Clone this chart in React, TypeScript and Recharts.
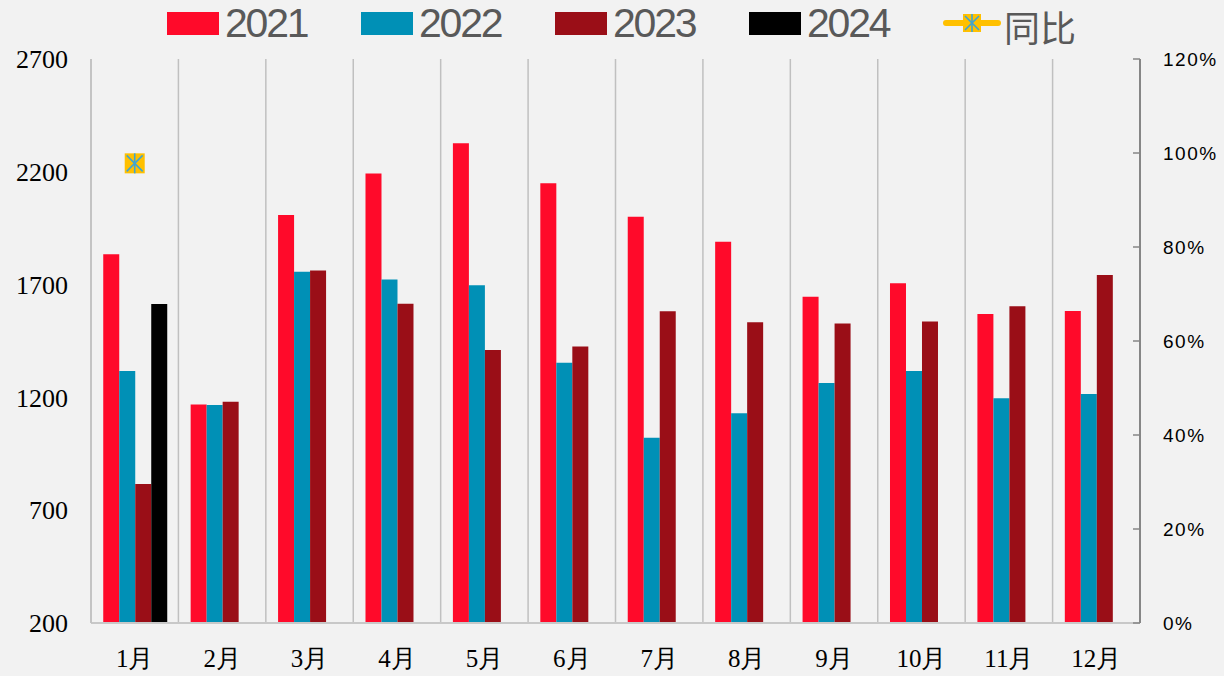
import { ComposedChart, Bar, Line, XAxis, YAxis, CartesianGrid } from 'recharts';

const months = ['1月', '2月', '3月', '4月', '5月', '6月', '7月', '8月', '9月', '10月', '11月', '12月'];
const v2021 = [1834, 1169, 2008, 2193, 2326, 2149, 2001, 1890, 1646, 1706, 1570, 1583];
const v2022 = [1317, 1166, 1757, 1723, 1697, 1354, 1021, 1130, 1264, 1317, 1196, 1215];
const v2023 = [816, 1181, 1763, 1615, 1410, 1426, 1582, 1533, 1528, 1536, 1604, 1743];
const v2024 = [1614, null, null, null, null, null, null, null, null, null, null, null];
const yoy = [0.978, null, null, null, null, null, null, null, null, null, null, null];

const leftTicks = [200, 700, 1200, 1700, 2200, 2700];
const rightTicks = [0, 0.2, 0.4, 0.6, 0.8, 1.0, 1.2];
// month boundaries on a numeric helper axis, for the vertical gridlines
const boundaryTicks = [0, 1, 2, 3, 4, 5, 6, 7, 8, 9, 10, 11, 12];

const series = [
  { key: 'y2021', name: '2021', color: '#FF0A2A' },
  { key: 'y2022', name: '2022', color: '#0090B6' },
  { key: 'y2023', name: '2023', color: '#9A0E17' },
  { key: 'y2024', name: '2024', color: '#000000' },
];

const data = months.map((m, i) => ({
  month: m,
  idx: i,
  y2021: v2021[i],
  y2022: v2022[i],
  y2023: v2023[i],
  y2024: v2024[i],
  yoy: yoy[i],
}));

function StarBox({ cx, cy, size = 20 }: { cx: number; cy: number; size?: number }) {
  const h = size / 2;
  return (
    <g>
      <rect x={cx - h} y={cy - h} width={size} height={size} fill="#FFC000" />
      <line x1={cx} y1={cy - h} x2={cx} y2={cy + h} stroke="#3FA4D2" strokeWidth={1.6} />
      <line x1={cx - h + 2} y1={cy - h + 2} x2={cx + h - 2} y2={cy + h - 2} stroke="#3FA4D2" strokeWidth={1.6} />
      <line x1={cx + h - 2} y1={cy - h + 2} x2={cx - h + 2} y2={cy + h - 2} stroke="#3FA4D2" strokeWidth={1.6} />
    </g>
  );
}

const YoyDot = (props: any) => {
  const { cx, cy, value, index } = props;
  if (value == null || cx == null || cy == null) return <g key={index} />;
  return <StarBox key={index} cx={cx} cy={cy} />;
};

const digitText = { fontFamily: '"Liberation Sans", Arial, sans-serif', fontSize: 41, color: '#595959', letterSpacing: -2.2 };
const cjkText = { fontFamily: '"Noto Sans CJK SC", sans-serif', fontSize: 36, color: '#595959', alignSelf: 'flex-start' as const };

function TopLegend() {
  return (
    <div style={{ position: 'absolute', left: 167, top: 0, height: 46, display: 'flex', alignItems: 'center' }}>
      {series.map(s => (
        <div key={s.key} style={{ width: 194, height: 46, display: 'flex', alignItems: 'center' }}>
          <span style={{ width: 52, height: 23, background: s.color, marginRight: 6, marginTop: 1 }} />
          <span style={digitText}>{s.name}</span>
        </div>
      ))}
      <div style={{ height: 46, display: 'flex', alignItems: 'center' }}>
        <svg width={58} height={30} style={{ marginRight: 3 }}>
          <line x1={3} y1={15} x2={55} y2={15} stroke="#FFC000" strokeWidth={6} strokeLinecap="round" />
          <StarBox cx={29} cy={15} size={18} />
        </svg>
        <span style={cjkText}>同比</span>
      </div>
    </div>
  );
}

export default function App() {
  return (
    <div style={{ position: 'absolute', left: 0, top: 0, width: 1224, height: 676, background: '#F2F2F2', overflow: 'hidden' }}>
      <ComposedChart
        width={1224}
        height={676}
        data={data}
        margin={{ top: 59, right: 0, bottom: 0, left: 0 }}
        barCategoryGap="14%"
        barGap={0}
      >
        <XAxis
          xAxisId="cat"
          dataKey="month"
          height={53}
          interval={0}
          tickLine={false}
          tickSize={0}
          tickMargin={26}
          axisLine={{ stroke: '#C8C8C8', strokeWidth: 2 }}
          tick={{ fontFamily: '"Liberation Serif", serif', fontSize: 25, fill: '#000' }}
        />
        <XAxis
          xAxisId="grid"
          dataKey="idx"
          type="number"
          domain={[0, 12]}
          allowDataOverflow
          ticks={boundaryTicks}
          interval={0}
          height={0}
          tickSize={8}
          tickLine={{ stroke: '#C8C8C8', strokeWidth: 1.5 }}
          axisLine={false}
          tickFormatter={() => ''}
        />
        <YAxis
          yAxisId="left"
          domain={[200, 2700]}
          ticks={leftTicks}
          width={91}
          tickLine={false}
          tickSize={0}
          tickMargin={23}
          axisLine={{ stroke: '#C0C0C0', strokeWidth: 1.5 }}
          tick={{ fontFamily: '"Liberation Serif", serif', fontSize: 26, fill: '#000' }}
        />
        <YAxis
          yAxisId="right"
          orientation="right"
          domain={[0, 1.2]}
          ticks={rightTicks}
          width={84}
          tickSize={-7}
          tickMargin={30}
          tickLine={{ stroke: '#868686', strokeWidth: 1.5 }}
          axisLine={{ stroke: '#868686', strokeWidth: 2 }}
          tickFormatter={(v: number) => `${Math.round(v * 100)}%`}
          tick={{ fontFamily: '"Liberation Sans", sans-serif', fontSize: 19, fill: '#000', letterSpacing: 1.5 }}
        />
        <CartesianGrid xAxisId="grid" yAxisId="left" horizontal={false} stroke="#C0C0C0" strokeWidth={1.5} />
        {series.map(s => (
          <Bar key={s.key} dataKey={s.key} name={s.name} xAxisId="cat" yAxisId="left" fill={s.color} isAnimationActive={false} />
        ))}
        <Line
          dataKey="yoy"
          name="同比"
          xAxisId="cat"
          yAxisId="right"
          stroke="#FFC000"
          strokeWidth={4}
          dot={YoyDot}
          activeDot={false}
          isAnimationActive={false}
        />
      </ComposedChart>
      <TopLegend />
    </div>
  );
}
